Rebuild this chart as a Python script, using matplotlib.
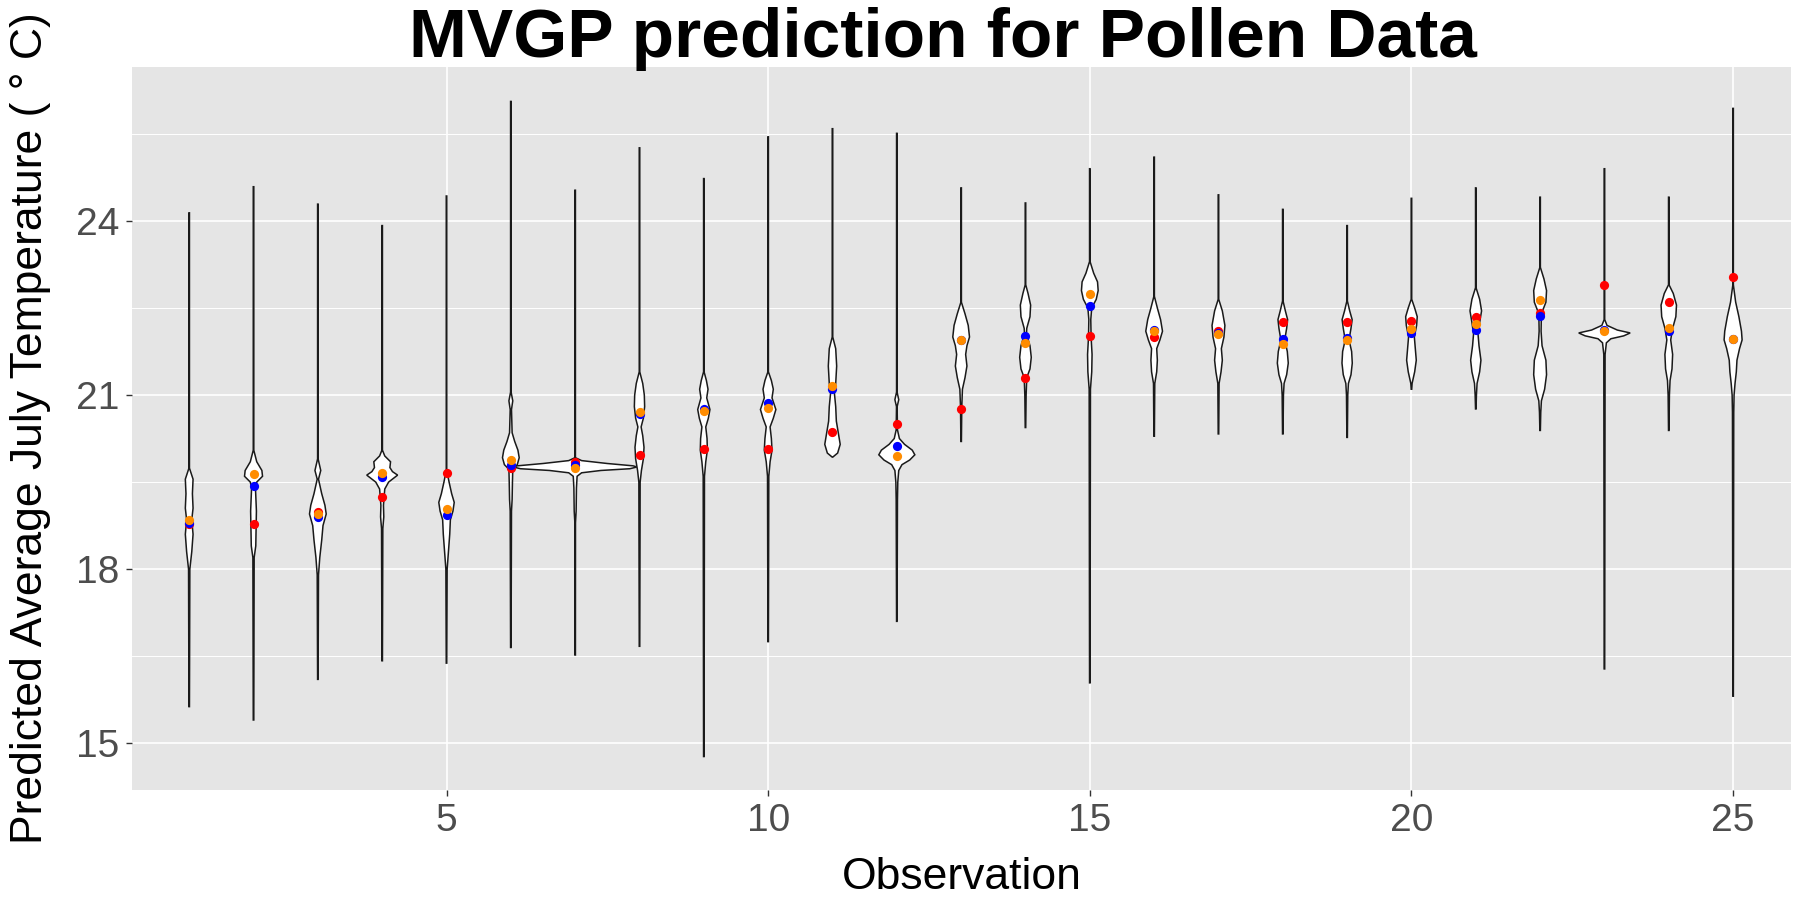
import matplotlib
matplotlib.use("Agg")
import matplotlib.pyplot as plt
import numpy as np

plt.rcParams["font.family"] = ["Liberation Sans", "DejaVu Sans"]

# valeurs
obs = list(range(1, 26))
red_vals = [18.77, 18.78, 18.99, 19.24, 19.66, 19.75, 19.84, 19.97, 20.07, 20.07,
            20.37, 20.50, 20.76, 21.30, 22.02, 22.00, 22.11, 22.26, 22.26, 22.28,
            22.34, 22.42, 22.90, 22.60, 23.04]
blue_vals = [18.80, 19.43, 18.89, 19.59, 18.93, 19.80, 19.80, 20.67, 20.76, 20.86,
             21.10, 20.13, 21.94, 22.02, 22.53, 22.12, 22.07, 21.96, 21.99, 22.07,
             22.12, 22.37, 22.12, 22.10, 21.96]
orange_vals = [18.84, 19.64, 18.95, 19.66, 19.03, 19.88, 19.75, 20.71, 20.73, 20.78,
               21.16, 19.95, 21.95, 21.90, 22.74, 22.10, 22.05, 21.88, 21.94, 22.14,
               22.22, 22.64, 22.10, 22.15, 21.96]

# extremites des queues
tail_hi = [24.14, 24.59, 24.29, 23.92, 24.43, 26.06, 24.53, 25.26, 24.73, 25.45,
           25.59, 25.51, 24.57, 24.31, 24.90, 25.10, 24.45, 24.20, 23.92, 24.39,
           24.57, 24.41, 24.90, 24.41, 25.94]
tail_lo = [15.63, 15.40, 16.10, 16.42, 16.38, 16.65, 16.52, 16.67, 14.77, 16.75,
           19.93, 17.10, 20.20, 20.44, 16.04, 20.29, 20.33, 20.33, 20.27, 21.10,
           20.76, 20.39, 16.28, 20.39, 15.81]

# profil des violons: (y, demi-largeur en unites de x)
profile_y = [
    [19.74, 19.55, 19.3, 19.05, 18.85, 18.6, 18.3, 18.0],
    [20.05, 19.85, 19.7, 19.6, 19.5, 19.4, 19.0, 18.7, 18.4, 18.2],
    [19.9, 19.7, 19.55, 19.3, 19.1, 18.95, 18.75, 18.5, 18.2, 17.9],
    [20.05, 19.95, 19.85, 19.75, 19.68, 19.62, 19.5, 19.38, 19.1, 18.9, 18.7],
    [19.7, 19.5, 19.3, 19.15, 19.0, 18.85, 18.6, 18.3, 18.0],
    [21.05, 20.9, 20.75, 20.35, 20.2, 20.05, 19.92, 19.8, 19.72, 19.5, 19.2, 19.0],
    [19.92, 19.87, 19.82, 19.78, 19.76, 19.73, 19.7, 19.66, 19.6, 19.4, 19.0, 18.8],
    [21.4, 21.2, 21.0, 20.8, 20.6, 20.45, 20.3, 20.1, 19.9, 19.7, 19.5],
    [21.4, 21.25, 21.1, 20.95, 20.75, 20.6, 20.45, 20.25, 20.05, 19.85, 19.6],
    [21.4, 21.25, 21.1, 20.95, 20.75, 20.6, 20.45, 20.25, 20.05, 19.85, 19.6],
    [22.0, 21.8, 21.5, 21.2, 21.03, 20.8, 20.55, 20.35, 20.15, 20.0],
    [21.05, 20.92, 20.8, 20.4, 20.25, 20.15, 20.05, 19.97, 19.88, 19.8, 19.7, 19.5, 19.2],
    [22.6, 22.4, 22.2, 22.0, 21.85, 21.7, 21.5, 21.3, 21.1, 20.8],
    [22.9, 22.75, 22.55, 22.35, 22.15, 22.05, 21.85, 21.65, 21.45, 21.3, 21.0],
    [23.3, 23.1, 22.95, 22.8, 22.65, 22.5, 22.3, 22.0, 21.7, 21.4, 21.1],
    [22.7, 22.5, 22.3, 22.1, 21.95, 21.8, 21.6, 21.4, 21.2],
    [22.65, 22.45, 22.2, 22.0, 21.8, 21.6, 21.4, 21.2],
    [22.62, 22.45, 22.3, 22.15, 21.95, 21.75, 21.55, 21.35, 21.2, 21.0],
    [22.62, 22.45, 22.3, 22.15, 21.95, 21.75, 21.55, 21.35, 21.2, 21.0],
    [22.65, 22.5, 22.35, 22.2, 22.0, 21.8, 21.6, 21.4, 21.2],
    [22.85, 22.65, 22.45, 22.25, 22.05, 21.85, 21.6, 21.4, 21.2, 21.0],
    [23.2, 23.0, 22.8, 22.6, 22.4, 22.1, 21.85, 21.6, 21.35, 21.1, 20.9, 20.7],
    [22.3, 22.2, 22.12, 22.07, 22.02, 21.97, 21.9, 21.7],
    [22.9, 22.75, 22.55, 22.35, 22.15, 21.95, 21.7, 21.45, 21.25, 21.0],
    [22.9, 22.6, 22.35, 22.1, 21.95, 21.8, 21.6, 21.4, 21.2, 21.0, 20.7],
]
profile_w = [
    [0.0, 0.06, 0.05, 0.06, 0.04, 0.06, 0.04, 0.01],
    [0.0, 0.05, 0.13, 0.14, 0.05, 0.03, 0.045, 0.04, 0.035, 0.01],
    [0.0, 0.045, 0.01, 0.06, 0.11, 0.13, 0.08, 0.06, 0.03, 0.01],
    [0.0, 0.04, 0.13, 0.12, 0.16, 0.24, 0.10, 0.04, 0.02, 0.025, 0.01],
    [0.0, 0.04, 0.08, 0.12, 0.10, 0.06, 0.05, 0.03, 0.01],
    [0.0, 0.03, 0.01, 0.02, 0.06, 0.11, 0.13, 0.10, 0.03, 0.025, 0.02, 0.01],
    [0.0, 0.10, 0.50, 0.90, 0.96, 0.85, 0.40, 0.10, 0.03, 0.02, 0.015, 0.005],
    [0.0, 0.05, 0.075, 0.08, 0.06, 0.025, 0.05, 0.07, 0.06, 0.03, 0.01],
    [0.0, 0.04, 0.065, 0.045, 0.095, 0.07, 0.03, 0.05, 0.055, 0.03, 0.01],
    [0.0, 0.05, 0.08, 0.06, 0.12, 0.08, 0.03, 0.05, 0.06, 0.03, 0.01],
    [0.0, 0.05, 0.065, 0.05, 0.03, 0.05, 0.06, 0.09, 0.12, 0.08],
    [0.0, 0.03, 0.005, 0.01, 0.04, 0.12, 0.24, 0.28, 0.20, 0.08, 0.03, 0.015, 0.01],
    [0.0, 0.06, 0.11, 0.13, 0.09, 0.07, 0.09, 0.06, 0.02, 0.01],
    [0.0, 0.04, 0.08, 0.07, 0.02, 0.015, 0.07, 0.09, 0.07, 0.02, 0.01],
    [0.0, 0.06, 0.12, 0.13, 0.10, 0.03, 0.015, 0.02, 0.035, 0.03, 0.01],
    [0.0, 0.05, 0.10, 0.13, 0.09, 0.04, 0.05, 0.04, 0.01],
    [0.0, 0.06, 0.10, 0.085, 0.045, 0.06, 0.04, 0.01],
    [0.0, 0.04, 0.075, 0.06, 0.03, 0.07, 0.085, 0.06, 0.02, 0.01],
    [0.0, 0.04, 0.078, 0.06, 0.03, 0.07, 0.08, 0.06, 0.02, 0.01],
    [0.0, 0.05, 0.09, 0.08, 0.045, 0.06, 0.075, 0.05, 0.01],
    [0.0, 0.06, 0.09, 0.06, 0.035, 0.05, 0.08, 0.06, 0.02, 0.01],
    [0.0, 0.06, 0.10, 0.09, 0.02, 0.015, 0.03, 0.09, 0.10, 0.07, 0.02, 0.01],
    [0.0, 0.04, 0.20, 0.40, 0.30, 0.10, 0.03, 0.01],
    [0.0, 0.07, 0.12, 0.11, 0.06, 0.03, 0.06, 0.05, 0.02, 0.01],
    [0.0, 0.04, 0.09, 0.13, 0.14, 0.10, 0.06, 0.05, 0.03, 0.015, 0.01],
]

fig = plt.figure(figsize=(18, 9), dpi=100)
ax = fig.add_axes([0.0733, 0.122, 0.9217, 0.804])
ax.set_facecolor("#E5E5E5")

tail_w = 0.004
for i, x in enumerate(obs):
    ys = np.array([tail_hi[i]] + profile_y[i] + [tail_lo[i]])
    ws = np.array([tail_w] + [max(w, tail_w) for w in profile_w[i]] + [tail_w])
    xs = np.concatenate([x - ws, (x + ws)[::-1]])
    yy = np.concatenate([ys, ys[::-1]])
    ax.fill(xs, yy, facecolor="white", edgecolor="#1A1A1A", linewidth=1.1, zorder=2)

ax.scatter(obs, red_vals, s=44, color="red", zorder=3, linewidths=0)
ax.scatter(obs, blue_vals, s=44, color="blue", zorder=4, linewidths=0)
ax.scatter(obs, orange_vals, s=44, color="#FF8C00", zorder=5, linewidths=0)

ax.set_xlim(0.11, 25.9)
ax.set_ylim(14.19, 26.66)
ax.set_xticks([5, 10, 15, 20, 25])
ax.set_yticks([15, 18, 21, 24])
ax.set_yticks([16.5, 19.5, 22.5, 25.5], minor=True)
ax.grid(True, which="major", color="white", linewidth=1.2)
ax.grid(True, which="minor", axis="y", color="white", linewidth=0.7)
ax.set_axisbelow(True)
for s in ax.spines.values():
    s.set_visible(False)
ax.tick_params(axis="both", which="major", labelsize=28, colors="#333333",
               labelcolor="#4D4D4D", length=4, width=1, pad=5)
ax.tick_params(axis="y", which="minor", length=0)

ax.set_xlabel("Observation", fontsize=32, labelpad=13)
ax.set_ylabel("Predicted Average July Temperature ( \u00b0 C)", fontsize=32, labelpad=18)

fig.text(0.524, 0.937, "MVGP prediction for Pollen Data", fontsize=50,
         fontweight="bold", ha="center", va="baseline",
         family=["Liberation Sans Narrow", "Liberation Sans", "DejaVu Sans"])

fig.savefig("out.png", dpi=100)
